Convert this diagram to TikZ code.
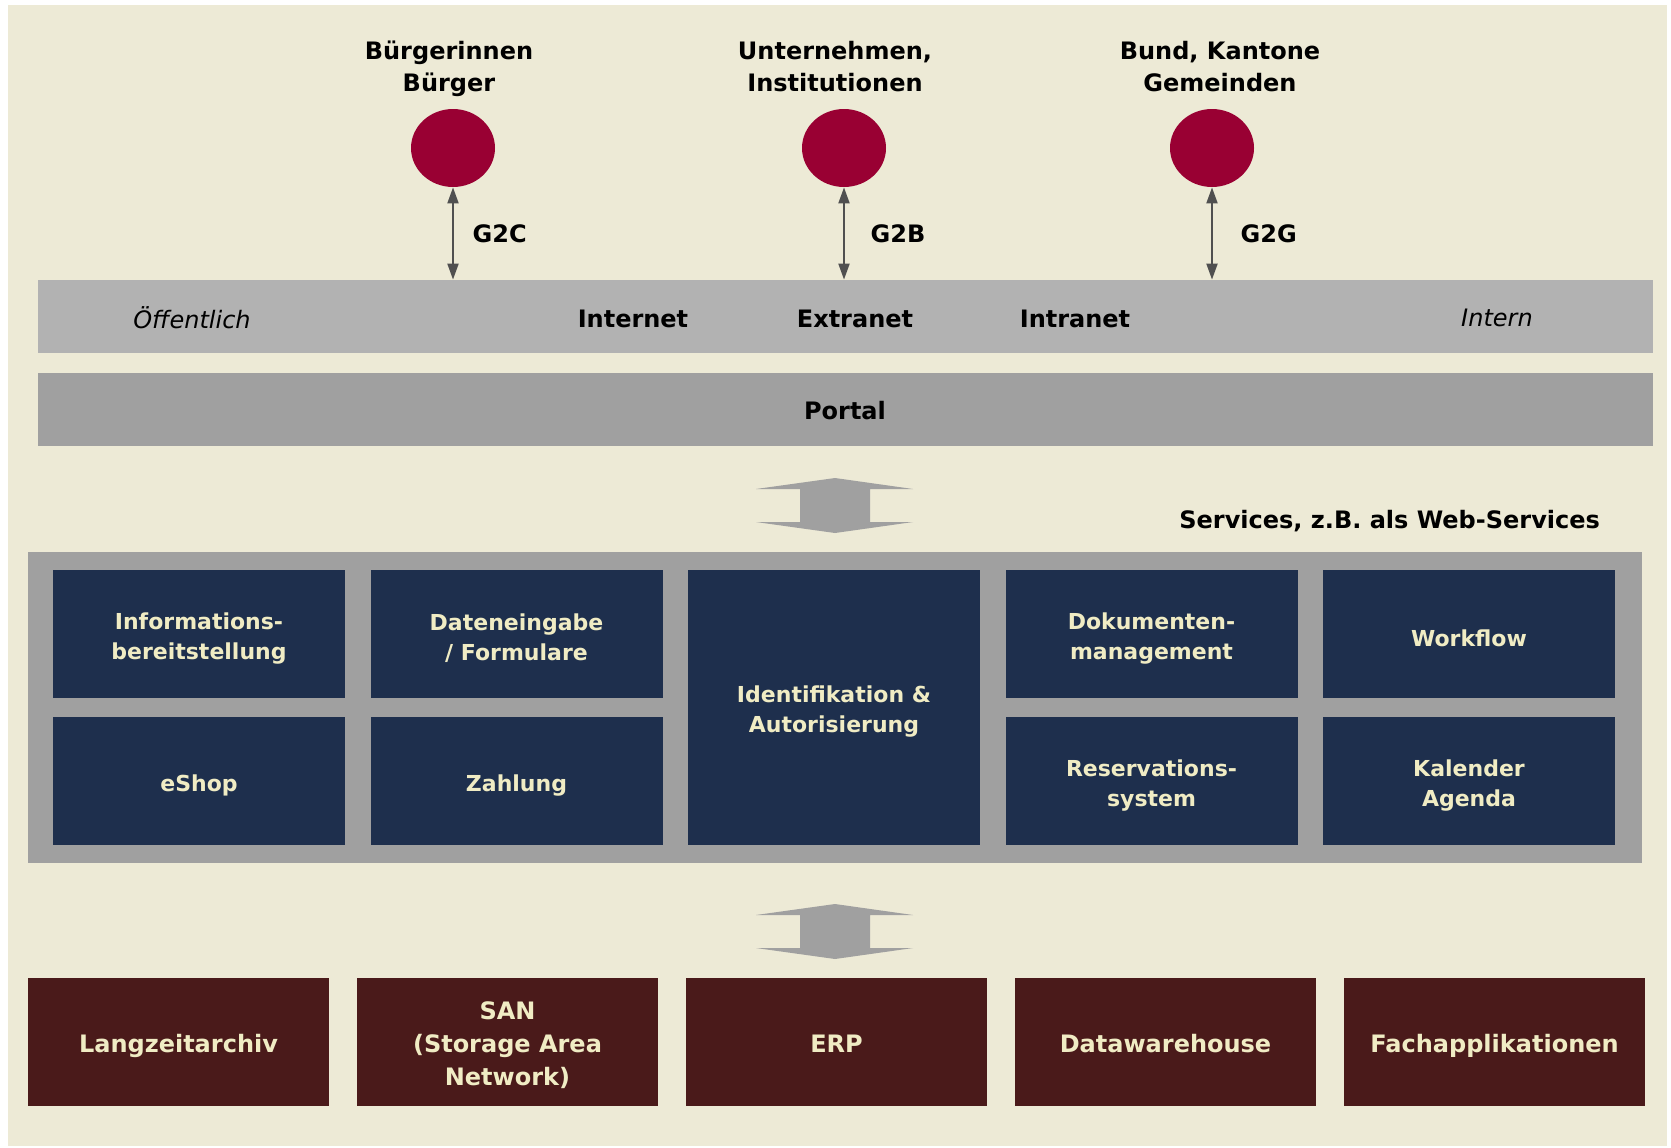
\documentclass[tikz,border=0pt]{standalone}
\usepackage{fontspec}
\setmainfont{DejaVu Sans}
\usetikzlibrary{shapes.geometric, arrows.meta, positioning, calc}

\definecolor{hintergrund}{RGB}{237,234,214}
\definecolor{grauhell}{RGB}{178,178,178}
\definecolor{graudunkel}{RGB}{160,160,160}
\definecolor{navy}{RGB}{30,47,77}
\definecolor{weinrot}{RGB}{153,0,51}
\definecolor{braunrot}{RGB}{74,26,26}
\definecolor{creme}{RGB}{240,236,196}
\definecolor{pfeilgrau}{RGB}{80,80,80}

\tikzset{
  akteur/.style={ellipse, fill=weinrot, minimum width=42pt, minimum height=39pt, inner sep=0pt},
  dienst/.style={rectangle, fill=navy, minimum width=146pt, minimum height=64pt, inner sep=0pt},
  diensttext/.style={text=creme, align=center, yshift=-2.2pt, font=\bfseries\fontsize{11pt}{15pt}\selectfont},
  system/.style={rectangle, fill=braunrot, minimum width=150.5pt, minimum height=64pt, inner sep=0pt},
  systemtext/.style={text=creme, align=center, yshift=-2pt, font=\bfseries\fontsize{12pt}{16.5pt}\selectfont},
  balken/.style={rectangle, minimum width=807.5pt, minimum height=36.5pt, inner sep=0pt},
  titel/.style={font=\bfseries\fontsize{12pt}{16pt}\selectfont, align=center},
  zone/.style={font=\itshape\fontsize{12pt}{16pt}\selectfont},
  kanal/.style={{Triangle[length=8pt,width=5.5pt]}-{Triangle[length=8pt,width=5.5pt]}, line width=1pt, draw=pfeilgrau},
}

\begin{document}
\begin{tikzpicture}[x=0.5pt, y=-0.5pt]
    % Background
    \useasboundingbox (0,0) rectangle (1671,1147);
    \fill[white] (0,0) rectangle (1671,1147);
    \fill[hintergrund] (8,5) rectangle (1667,1146);

    % Actors
    \node[akteur] (cbuerger) at (453,148) {};
    \node[akteur] (cfirma) at (844,148) {};
    \node[akteur] (cbund) at (1212,148) {};
    \node[titel] (lbuerger) at (449,69) {Bürgerinnen\\Bürger};
    \node[titel] (lfirma) at (835,67) {Unternehmen,\\Institutionen};
    \node[titel] (lbund) at (1220,67) {Bund, Kantone\\Gemeinden};

    % Network band and portal
    \node[balken, fill=grauhell] (netz) at (845.5,316.5) {};
    \node[balken, fill=graudunkel] (portal) at (845.5,409) {};
    \node[zone] (oeffentlich) at (192,318) {Öffentlich};
    \node[titel] (internet) at (633,319) {Internet};
    \node[titel] (extranet) at (855,319) {Extranet};
    \node[titel] (intranet) at (1075,319) {Intranet};
    \node[zone] (intern) at (1497,318) {Intern};
    \node[titel] (portaltext) at (845,411) {Portal};

    \draw[kanal] (cbuerger.south) -- node[titel, right=6pt] {G2C} (cbuerger |- netz.north);
    \draw[kanal] (cfirma.south) -- node[titel, right=9.5pt] {G2B} (cfirma |- netz.north);
    \draw[kanal] (cbund.south) -- node[titel, right=10.5pt] {G2G} (cbund |- netz.north);

    % Block arrows
    \foreach \ym in {505.5, 931.5} {
        \fill[graudunkel] (756,\ym-16.5) -- (835,\ym-27.5) -- (913,\ym-16.5) -- (870,\ym-16.5)
            -- (870,\ym+16.5) -- (913,\ym+16.5) -- (835,\ym+27.5) -- (756,\ym+16.5)
            -- (800,\ym+16.5) -- (800,\ym-16.5) -- cycle;
    }
    \node[titel, anchor=east] (servicetext) at (1607,521) {Services, z.B. als Web-Services};

    % Services
    \fill[graudunkel] (28,552) rectangle (1642,863);
    \node[dienst] (info) at (199,634) {};
    \node[dienst] (daten) at (516.5,634) {};
    \node[dienst, minimum height=137.5pt] (ident) at (834,707.5) {};
    \node[dienst] (dokument) at (1151.5,634) {};
    \node[dienst] (workflow) at (1469,634) {};
    \node[dienst] (eshop) at (199,781) {};
    \node[dienst] (zahlung) at (516.5,781) {};
    \node[dienst] (reservation) at (1151.5,781) {};
    \node[dienst] (kalender) at (1469,781) {};
    \node[diensttext] (tinfo) at (info) {Informations-\\bereitstellung};
    \node[diensttext] (tdaten) at (daten) {Dateneingabe\\/ Formulare};
    \node[diensttext] (tident) at (ident) {Identifikation \&\\Autorisierung};
    \node[diensttext] (tdokument) at (dokument) {Dokumenten-\\management};
    \node[diensttext] (tworkflow) at (workflow) {Workflow};
    \node[diensttext] (teshop) at (eshop) {eShop};
    \node[diensttext] (tzahlung) at (zahlung) {Zahlung};
    \node[diensttext] (treservation) at (reservation) {Reservations-\\system};
    \node[diensttext] (tkalender) at (kalender) {Kalender\\Agenda};

    % Back-end systems
    \foreach \txt [count=\i] in {Langzeitarchiv, {SAN\\(Storage Area\\Network)}, ERP, Datawarehouse, Fachapplikationen} {
        \node[system] (sys\i) at (178.5+329*\i-329,1042) {};
        \node[systemtext, text depth=2.5pt] (tsys\i) at (sys\i) {\txt};
    }

\end{tikzpicture}
\end{document}
